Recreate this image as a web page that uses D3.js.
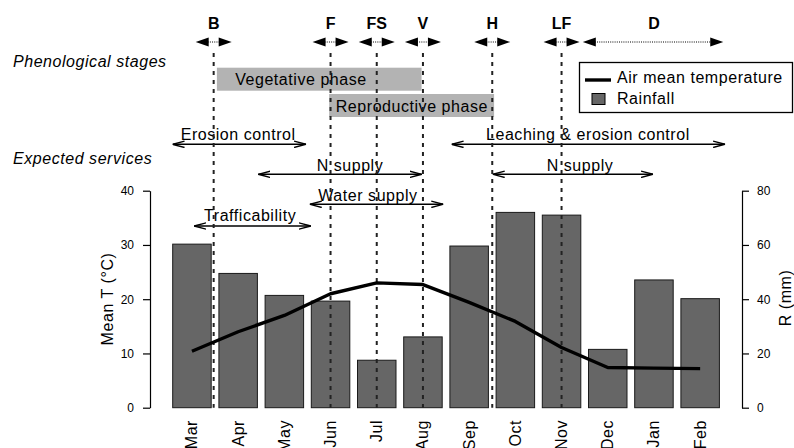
<!DOCTYPE html>
<html>
<head>
<meta charset="utf-8">
<script src="https://cdn.jsdelivr.net/npm/d3@7"></script>
<style>
  body { margin: 0; background: #fff; }
  svg { display: block; font-family: "Liberation Sans", Arial, sans-serif; }
  .txt { font-size: 16px; letter-spacing: 0.55px; }
  .tick text { font-size: 12px; font-family: "Liberation Sans", Arial, sans-serif; }
</style>
</head>
<body>
<div class="chart"></div>
<script>
  // data
  var months = ['Mar','Apr','May','Jun','Jul','Aug','Sep','Oct','Nov','Dec','Jan','Feb'];
  var rainfall = [60.3, 49.5, 41.4, 39.3, 17.5, 26.1, 59.6, 72.0, 71.0, 21.5, 47.1, 40.2];
  var temperature = [10.4, 14.0, 17.0, 21.0, 23.0, 22.7, 19.4, 15.9, 11.1, 7.4, 7.3, 7.2];

  // stages, positions in month index (0 = Mar)
  var stageNames = ['B','F','FS','V','H','LF'];
  var stagePos = [0.47, 3, 4, 5, 6.5, 8];
  var dormancy = { name: 'D', label: 10, from: 8.46, to: 11.5 };

  // phases: [start, end, text centre]
  var phaseNames = ['Vegetative phase', 'Reproductive phase'];
  var phaseSpans = [[0.54, 4.97, 2.36], [2.97, 6.54, 4.76]];

  // services: [from, to, text centre], row
  var serviceNames = ['Erosion control', 'Leaching & erosion control', 'N supply', 'N supply', 'Water supply', 'Trafficability'];
  var serviceSpans = [[-0.42, 2.47, 1.0], [5.62, 11.54, 8.57], [1.44, 4.97, 3.42], [6.51, 9.98, 8.4], [2.55, 5.44, 3.81], [0.05, 2.57, 1.26]];
  var serviceRow = [0, 0, 1, 1, 2, 3];

  var width = 794;
  var height = 448;

  var svg = d3.select('.chart')
    .append('svg')
    .attr('width', width)
    .attr('height', height);

  var plotTop = 190.7, plotBottom = 407.7;

  var xb = d3.scaleBand().domain(months).range([168.85, 723.25]).paddingInner(0.1667).paddingOuter(0.0833);
  var bw = xb.bandwidth();
  // month index -> x of bar centre
  var xi = d3.scaleLinear().domain([0, 11]).range([xb(months[0]) + bw / 2, xb(months[11]) + bw / 2]);

  var yT = d3.scaleLinear().domain([0, 40]).range([plotBottom, plotTop]);
  var yR = d3.scaleLinear().domain([0, 80]).range([plotBottom, plotTop]);

  // arrowheads
  var defs = svg.append('defs');
  defs.append('marker')
    .attr('id', 'open')
    .attr('viewBox', '0 0 12 8')
    .attr('refX', 12).attr('refY', 4)
    .attr('markerWidth', 12).attr('markerHeight', 8)
    .attr('markerUnits', 'userSpaceOnUse')
    .attr('orient', 'auto-start-reverse')
    .append('path')
    .attr('d', 'M0,0.8 L12,4 L0,7.2')
    .attr('fill', 'none')
    .attr('stroke', '#000')
    .attr('stroke-width', 1.4);

  // bars
  svg.selectAll('.bar')
    .data(rainfall)
    .enter()
    .append('rect')
    .attr('class', 'bar')
    .attr('x', function(d, i) { return xb(months[i]) })
    .attr('width', bw)
    .attr('y', function(d) { return yR(d) })
    .attr('height', function(d) { return plotBottom - yR(d) })
    .attr('fill', '#666666')
    .attr('stroke', '#1a1a1a')
    .attr('stroke-width', 1);

  // axes
  svg.append('g')
    .attr('transform', 'translate(150,0)')
    .call(d3.axisLeft(yT).tickValues([0,10,20,30,40]).tickSize(7).tickPadding(9).tickSizeOuter(0));
  svg.append('g')
    .attr('transform', 'translate(742,0)')
    .call(d3.axisRight(yR).tickValues([0,20,40,60,80]).tickSize(7).tickPadding(8).tickSizeOuter(0));
  svg.selectAll('.domain, .tick line').attr('stroke', '#000').attr('stroke-width', 1.2);

  svg.append('text')
    .attr('class', 'txt')
    .attr('transform', 'translate(113,299) rotate(-90)')
    .attr('text-anchor', 'middle')
    .text('Mean T (°C)');
  svg.append('text')
    .attr('class', 'txt')
    .attr('transform', 'translate(791,298) rotate(-90)')
    .attr('text-anchor', 'middle')
    .text('R (mm)');

  // month labels
  svg.selectAll('.month')
    .data(months)
    .enter()
    .append('text')
    .attr('class', 'txt month')
    .attr('transform', function(d) { return 'translate(' + (xb(d) + bw / 2 + 5.5) + ',420) rotate(-90)' })
    .attr('text-anchor', 'end')
    .text(function(d) { return d });

  // phase boxes
  var phases = svg.selectAll('.phase')
    .data(phaseNames)
    .enter()
    .append('g')
    .attr('class', 'phase');
  phases.append('rect')
    .attr('x', function(d, i) { return xi(phaseSpans[i][0]) })
    .attr('width', function(d, i) { return xi(phaseSpans[i][1]) - xi(phaseSpans[i][0]) })
    .attr('y', function(d, i) { return i === 0 ? 67.7 : 94 })
    .attr('height', 23)
    .attr('fill', '#b3b3b3');
  phases.append('text')
    .attr('class', 'txt')
    .attr('x', function(d, i) { return xi(phaseSpans[i][2]) })
    .attr('y', function(d, i) { return i === 0 ? 84.5 : 111.5 })
    .attr('text-anchor', 'middle')
    .text(function(d) { return d });

  // services
  var rowText = [139.5, 170.7, 200.7, 220.7];
  var rowLine = [144.3, 174.3, 204.3, 226];
  var serv = svg.selectAll('.service')
    .data(serviceNames)
    .enter()
    .append('g')
    .attr('class', 'service');
  serv.append('line')
    .attr('x1', function(d, i) { return xi(serviceSpans[i][0]) })
    .attr('x2', function(d, i) { return xi(serviceSpans[i][1]) })
    .attr('y1', function(d, i) { return rowLine[serviceRow[i]] })
    .attr('y2', function(d, i) { return rowLine[serviceRow[i]] })
    .attr('stroke', '#000')
    .attr('stroke-width', 1.4)
    .attr('marker-start', 'url(#open)')
    .attr('marker-end', 'url(#open)');
  serv.append('text')
    .attr('class', 'txt')
    .attr('x', function(d, i) { return xi(serviceSpans[i][2]) })
    .attr('y', function(d, i) { return rowText[serviceRow[i]] })
    .attr('text-anchor', 'middle')
    .text(function(d) { return d });

  // side labels
  svg.append('text').attr('class', 'txt').attr('x', 13).attr('y', 67)
    .style('font-style', 'italic').text('Phenological stages');
  svg.append('text').attr('class', 'txt').attr('x', 13).attr('y', 163.5)
    .style('font-style', 'italic').text('Expected services');

  // stage dashed lines
  svg.selectAll('.stage-line')
    .data(stagePos)
    .enter()
    .append('line')
    .attr('class', 'stage-line')
    .attr('x1', function(d) { return xi(d) })
    .attr('x2', function(d) { return xi(d) })
    .attr('y1', 53)
    .attr('y2', plotBottom)
    .attr('stroke', '#222')
    .attr('stroke-width', 2)
    .attr('stroke-dasharray', '4,5');

  // temperature line
  var line = d3.line()
    .x(function(d, i) { return xi(i) })
    .y(function(d) { return yT(d) });
  svg.append('path')
    .datum(temperature)
    .attr('d', line)
    .attr('fill', 'none')
    .attr('stroke', '#000')
    .attr('stroke-width', 3.4)
    .attr('stroke-linejoin', 'round');

  // stage labels with filled double arrows
  function stageArrow(x1, x2, y) {
    var g = svg.append('g');
    g.append('line')
      .attr('x1', x1 + 12).attr('x2', x2 - 12)
      .attr('y1', y).attr('y2', y)
      .attr('stroke', '#000').attr('stroke-width', 1)
      .attr('stroke-dasharray', '1,1.2');
    g.append('path')
      .attr('d', 'M' + x1 + ',' + y + 'L' + (x1 + 13) + ',' + (y - 4.5) + 'L' + (x1 + 13) + ',' + (y + 4.5) + 'Z');
    g.append('path')
      .attr('d', 'M' + x2 + ',' + y + 'L' + (x2 - 13) + ',' + (y - 4.5) + 'L' + (x2 - 13) + ',' + (y + 4.5) + 'Z');
  }
  stagePos.forEach(function(p, i) {
    var x = xi(p);
    stageArrow(x - 18, x + 18, 42);
    svg.append('text')
      .attr('x', x).attr('y', 29)
      .attr('text-anchor', 'middle')
      .style('font-weight', 'bold').style('font-size', '16px')
      .text(stageNames[i]);
  });
  stageArrow(xi(dormancy.from), xi(dormancy.to), 42);
  svg.append('text')
    .attr('x', xi(dormancy.label)).attr('y', 29)
    .attr('text-anchor', 'middle')
    .style('font-weight', 'bold').style('font-size', '16px')
    .text(dormancy.name);

  // legend
  var lg = svg.append('g');
  lg.append('rect')
    .attr('x', 579.5).attr('y', 62.5).attr('width', 213).attr('height', 50)
    .attr('fill', '#fff').attr('stroke', '#000').attr('stroke-width', 1.3);
  lg.append('line')
    .attr('x1', 585).attr('x2', 611).attr('y1', 80).attr('y2', 80)
    .attr('stroke', '#000').attr('stroke-width', 3.4);
  lg.append('rect')
    .attr('x', 592).attr('y', 93.5).attr('width', 13).attr('height', 11)
    .attr('fill', '#666666').attr('stroke', '#000').attr('stroke-width', 1);
  lg.append('text').attr('class', 'txt').attr('x', 617).attr('y', 83).text('Air mean temperature');
  lg.append('text').attr('class', 'txt').attr('x', 617).attr('y', 104).text('Rainfall');
</script>
</body>
</html>
